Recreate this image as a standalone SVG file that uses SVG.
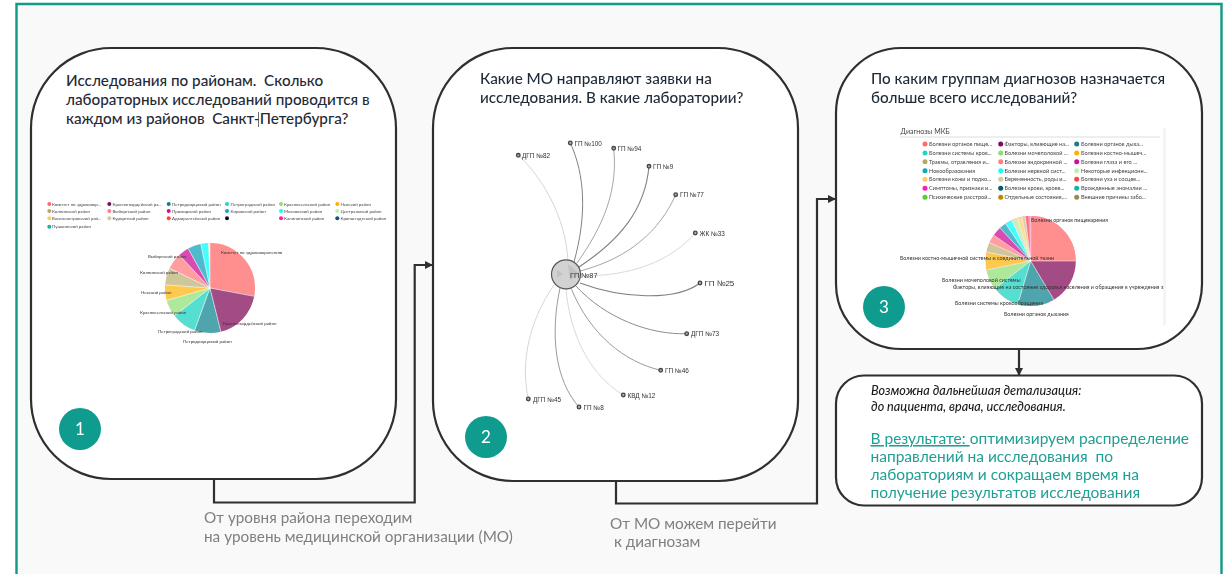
<svg xmlns="http://www.w3.org/2000/svg" width="1230" height="574" viewBox="0 0 1230 574">
<style>
text{font-family:"Lato","Open Sans","Liberation Sans",sans-serif;white-space:pre}
.box{fill:#fff;stroke:#2f2f2f;stroke-width:2.2}
.conn{fill:none;stroke:#2f2f2f;stroke-width:2.2}
.ttl{font-size:15.25px;fill:#1f2a37;font-weight:500}
.note{font-size:15.3px;fill:#7f7f7f}
.res{font-size:15.5px;fill:#1f9f94}
.num{font-size:17px;fill:#fff;text-anchor:middle}
.badge{fill:#0f9b8e}
.l1{font-size:4.4px;fill:#444}
.l3{font-size:5.6px;fill:#444}
.pl{font-size:4.4px;fill:#333}
.pl3{font-size:5.4px;fill:#333}
.g{font-size:6.4px;fill:#333;font-family:"Liberation Sans",sans-serif}
.edge{fill:none;stroke:#808080}
.n{fill:#aaa;stroke:#444;stroke-width:1.3}
.sl{fill:none;stroke-width:45}
.sep{stroke:#fff;stroke-width:.5}
</style>
<defs>
<marker id="arr" markerUnits="userSpaceOnUse" markerWidth="9" markerHeight="9" refX="8" refY="4" orient="auto"><path d="M0 0L8 4L0 8Z" fill="#2f2f2f"/></marker>
<filter id="soft" x="-5%" y="-5%" width="110%" height="110%"><feGaussianBlur stdDeviation="0.28"/></filter>
</defs>
<rect width="1230" height="574" fill="#fff"/>
<path d="M16.5 574V4H1221.5V574Z" fill="#f9f9f9"/>
<path d="M16.5 574V4H1221.5V574" fill="none" stroke="#0f9b84" stroke-width="2.4"/>

<g id="connectors">
<path class="conn" d="M214 479V502.5H414.7V265H433" marker-end="url(#arr)"/>
<path class="conn" d="M616 481V503.5H817V199H836" marker-end="url(#arr)"/>
<path class="conn" d="M1019 349V376" marker-end="url(#arr)"/>
</g>

<g id="node-1">
<rect class="box" x="31" y="48" width="365" height="431" rx="80"/>
<text class="ttl" x="66" y="86">Исследования по районам.  Сколько</text>
<text class="ttl" x="66" y="105">лабораторных исследований проводится в</text>
<text class="ttl" x="66" y="124">каждом из районов  Санкт-Петербурга?</text>
<line x1="258.5" y1="112" x2="258.5" y2="127" stroke="#444" stroke-width=".8"/>
<g filter="url(#soft)">
<circle cx="49.3" cy="204" r="2" fill="#ff6b6b"/><text class="l1" x="52" y="205.7">Комитет по здравоохр...</text>
<circle cx="109.3" cy="204" r="2" fill="#7a0d5e"/><text class="l1" x="112.5" y="205.7">Красногвардейский ра...</text>
<circle cx="168.7" cy="204" r="2" fill="#137c86"/><text class="l1" x="172" y="205.7">Петродворцовый район</text>
<circle cx="227" cy="204" r="2" fill="#22d6c4"/><text class="l1" x="230.5" y="205.7">Петроградский район</text>
<circle cx="281" cy="204" r="2" fill="#8de070"/><text class="l1" x="284" y="205.7">Красносельский район</text>
<circle cx="337.3" cy="204" r="2" fill="#ffb000"/><text class="l1" x="340.5" y="205.7">Невский район</text>
<circle cx="49.3" cy="211" r="2" fill="#b8a862"/><text class="l1" x="52" y="212.7">Колпинский район</text>
<circle cx="109.3" cy="211" r="2" fill="#ff8080"/><text class="l1" x="112.5" y="212.7">Выборгский район</text>
<circle cx="168.7" cy="211" r="2" fill="#cc1097"/><text class="l1" x="172" y="212.7">Приморский район</text>
<circle cx="227" cy="211" r="2" fill="#12a5bd"/><text class="l1" x="230.5" y="212.7">Кировский район</text>
<circle cx="281" cy="211" r="2" fill="#1ff"/><text class="l1" x="284" y="212.7">Московский район</text>
<circle cx="337.3" cy="211" r="2" fill="#c0eeb0"/><text class="l1" x="340.5" y="212.7">Центральный район</text>
<circle cx="49.3" cy="218.3" r="2" fill="#ffcc66"/><text class="l1" x="52" y="220">Василеостровский рай...</text>
<circle cx="109.3" cy="218.3" r="2" fill="#d4cb9c"/><text class="l1" x="112.5" y="220">Курортный район</text>
<circle cx="168.7" cy="218.3" r="2" fill="#f44"/><text class="l1" x="172" y="220">Адмиралтейский район</text>
<circle cx="227" cy="218.3" r="2" fill="#111"/>
<circle cx="281" cy="218.3" r="2" fill="#ff1cae"/><text class="l1" x="284" y="220">Калининский район</text>
<circle cx="337.3" cy="218.3" r="2" fill="#075a66"/><text class="l1" x="340.5" y="220">Кронштадтский район</text>
<circle cx="49.3" cy="226.7" r="2" fill="#12b5a0"/><text class="l1" x="52" y="228.4">Пушкинский район</text>
<g transform="translate(210 288) rotate(-90)">
<circle class="sl" r="22.5" pathLength="360" stroke="#f2efe0"/>
<circle class="sl" r="22.5" pathLength="360" stroke="#ff8f8f" stroke-dasharray="100.7 360"/>
<circle class="sl" r="22.5" pathLength="360" stroke="#a24b85" stroke-dasharray="65.3 360" stroke-dashoffset="-100.7"/>
<circle class="sl" r="22.5" pathLength="360" stroke="#4fa5ae" stroke-dasharray="34 360" stroke-dashoffset="-166"/>
<circle class="sl" r="22.5" pathLength="360" stroke="#55dfd0" stroke-dasharray="32 360" stroke-dashoffset="-200"/>
<circle class="sl" r="22.5" pathLength="360" stroke="#aee89a" stroke-dasharray="22 360" stroke-dashoffset="-232"/>
<circle class="sl" r="22.5" pathLength="360" stroke="#ffc94d" stroke-dasharray="20 360" stroke-dashoffset="-254"/>
<circle class="sl" r="22.5" pathLength="360" stroke="#cfc79a" stroke-dasharray="22 360" stroke-dashoffset="-274"/>
<circle class="sl" r="22.5" pathLength="360" stroke="#ff9ea0" stroke-dasharray="21 360" stroke-dashoffset="-296"/>
<circle class="sl" r="22.5" pathLength="360" stroke="#d84bb0" stroke-dasharray="14 360" stroke-dashoffset="-317"/>
<circle class="sl" r="22.5" pathLength="360" stroke="#4fbacb" stroke-dasharray="17 360" stroke-dashoffset="-331"/>
<circle class="sl" r="22.5" pathLength="360" stroke="#4ff" stroke-dasharray="9.4 360" stroke-dashoffset="-348"/>
<line class="sep" x2="45"/>
<line class="sep" x2="45" transform="rotate(100.7)"/>
<line class="sep" x2="45" transform="rotate(166)"/>
<line class="sep" x2="45" transform="rotate(200)"/>
<line class="sep" x2="45" transform="rotate(232)"/>
<line class="sep" x2="45" transform="rotate(254)"/>
<line class="sep" x2="45" transform="rotate(274)"/>
<line class="sep" x2="45" transform="rotate(296)"/>
<line class="sep" x2="45" transform="rotate(317)"/>
<line class="sep" x2="45" transform="rotate(331)"/>
<line class="sep" x2="45" transform="rotate(348)"/>
</g>
<text class="pl" x="221" y="254">Комитет по здравоохранению</text>
<text class="pl" x="223" y="325">Красногвардейский район</text>
<text class="pl" x="183" y="343">Петродворцовый район</text>
<text class="pl" x="158" y="333">Петроградский район</text>
<text class="pl" x="140" y="314">Красносельский район</text>
<text class="pl" x="141" y="294">Невский район</text>
<text class="pl" x="140" y="274">Колпинский район</text>
<text class="pl" x="148" y="257.5">Выборгский район</text>
</g>
<circle class="badge" cx="80" cy="429" r="21"/>
<text class="num" x="80" y="435">1</text>
</g>

<g id="node-2">
<rect class="box" x="433" y="48" width="365" height="433" rx="80"/>
<text class="ttl" x="480" y="84">Какие МО направляют заявки на</text>
<text class="ttl" x="480" y="103">исследования. В какие лаборатории?</text>
<g filter="url(#soft)">
<path class="edge" stroke-width=".6" opacity=".55" d="M568 262C566 215 540 175 518.3 155.3"/>
<path class="edge" stroke-width="1" d="M574 262C587 215 585 175 570.3 143"/>
<path class="edge" stroke-width=".7" d="M577 263C604 225 618 190 613.7 148.3"/>
<path class="edge" stroke-width="1.1" d="M579 267C620 240 645 210 649 166.3"/>
<path class="edge" stroke-width=".7" d="M580 271C630 258 660 230 675.7 194.7"/>
<path class="edge" stroke-width=".6" opacity=".5" d="M582 276C630 276 670 262 695.3 233"/>
<path class="edge" stroke-width="1.1" d="M580 283C620 298 675 302 700 283"/>
<path class="edge" stroke-width=".9" d="M576 286C605 318 650 335 686.7 333.7"/>
<path class="edge" stroke-width=".8" d="M571 288C590 335 625 362 660.7 370.3"/>
<path class="edge" stroke-width=".6" opacity=".5" d="M566 289C570 335 590 375 623.3 395"/>
<path class="edge" stroke-width=".8" d="M560 288C550 335 555 380 579 407"/>
<path class="edge" stroke-width=".6" opacity=".55" d="M554 285C530 320 520 360 528.3 399"/>
<circle cx="566" cy="274.3" r="14.5" fill="#d2d2d2" stroke="#555" stroke-width="1.2"/>
<path d="M557 270L563 274L557 278Z M568 264L580 274L570 280Z" fill="#c2c2c2"/>
<g><circle class="n" cx="518.3" cy="155.3" r="1.8"/><text class="g" x="522" y="158">ДГП №82</text></g>
<g><circle class="n" cx="570.3" cy="143" r="1.8"/><text class="g" x="574.5" y="145.5">ГП №100</text></g>
<g><circle class="n" cx="613.7" cy="148.3" r="1.8"/><text class="g" x="617.5" y="151">ГП №94</text></g>
<g><circle class="n" cx="649" cy="166.3" r="1.8"/><text class="g" x="653" y="169">ГП №9</text></g>
<g><circle class="n" cx="675.7" cy="194.7" r="1.8"/><text class="g" x="680" y="197.3">ГП №77</text></g>
<g><circle class="n" cx="695.3" cy="233" r="1.8"/><text class="g" x="699.5" y="235.5">ЖК №33</text></g>
<g><circle class="n" cx="700" cy="283" r="1.8"/><text class="g" x="704.5" y="286" style="font-size:8px">ГП №25</text></g>
<g><circle class="n" cx="686.7" cy="333.7" r="1.8"/><text class="g" x="691" y="336.3">ДГП №73</text></g>
<g><circle class="n" cx="660.7" cy="370.3" r="1.8"/><text class="g" x="665" y="373">ГП №46</text></g>
<g><circle class="n" cx="623.3" cy="395" r="1.8"/><text class="g" x="627.5" y="397.6">КВД №12</text></g>
<g><circle class="n" cx="579" cy="407" r="1.8"/><text class="g" x="583.5" y="409.6">ГП №8</text></g>
<g><circle class="n" cx="528.3" cy="399" r="1.8"/><text class="g" x="533" y="401.6">ДГП №45</text></g>
<text class="g" x="570" y="277.5" style="font-size:7.4px">ГП №87</text>
</g>
<circle class="badge" cx="486" cy="437" r="21"/>
<text class="num" x="486" y="443">2</text>
</g>

<g id="node-3">
<rect class="box" x="836" y="48" width="366" height="301" rx="65"/>
<text class="ttl" x="871" y="84">По каким группам диагнозов назначается</text>
<text class="ttl" x="871" y="103">больше всего исследований?</text>
<g filter="url(#soft)">
<rect x="1163" y="128" width="3" height="197" fill="#f4f4f4"/>
<text x="900.5" y="134" style="font-size:7px;fill:#444">Диагнозы МКБ</text>
<line x1="900" y1="137" x2="1160" y2="137" stroke="#ddd"/>
<circle cx="925" cy="144" r="2.5" fill="#ff6b6b"/><text class="l3" x="929" y="146">Болезни органов пище...</text>
<circle cx="1000.7" cy="144" r="2.5" fill="#7a0d5e"/><text class="l3" x="1004.5" y="146">Факторы, влияющие на...</text>
<circle cx="1076.7" cy="144" r="2.5" fill="#137c86"/><text class="l3" x="1081" y="146">Болезни органов дыха...</text>
<circle cx="925" cy="153" r="2.5" fill="#22d6c4"/><text class="l3" x="929" y="155">Болезни системы кров...</text>
<circle cx="1000.7" cy="153" r="2.5" fill="#8de070"/><text class="l3" x="1004.5" y="155">Болезни мочеполовой ...</text>
<circle cx="1076.7" cy="153" r="2.5" fill="#ffb000"/><text class="l3" x="1081" y="155">Болезни костно-мышеч...</text>
<circle cx="925" cy="161.7" r="2.5" fill="#b8a862"/><text class="l3" x="929" y="163.7">Травмы, отравления и...</text>
<circle cx="1000.7" cy="161.7" r="2.5" fill="#ff8080"/><text class="l3" x="1004.5" y="163.7">Болезни эндокринной ...</text>
<circle cx="1076.7" cy="161.7" r="2.5" fill="#cc1097"/><text class="l3" x="1081" y="163.7">Болезни глаза и его ...</text>
<circle cx="925" cy="170.7" r="2.5" fill="#12a5bd"/><text class="l3" x="929" y="172.7">Новообразования</text>
<circle cx="1000.7" cy="170.7" r="2.5" fill="#1ff"/><text class="l3" x="1004.5" y="172.7">Болезни нервной сист...</text>
<circle cx="1076.7" cy="170.7" r="2.5" fill="#c0eeb0"/><text class="l3" x="1081" y="172.7">Некоторые инфекционн...</text>
<circle cx="925" cy="179.3" r="2.5" fill="#ffcc66"/><text class="l3" x="929" y="181.3">Болезни кожи и подко...</text>
<circle cx="1000.7" cy="179.3" r="2.5" fill="#d4cb9c"/><text class="l3" x="1004.5" y="181.3">Беременность, роды и...</text>
<circle cx="1076.7" cy="179.3" r="2.5" fill="#f44"/><text class="l3" x="1081" y="181.3">Болезни уха и сосцев...</text>
<circle cx="925" cy="188.3" r="2.5" fill="#ff1cae"/><text class="l3" x="929" y="190.3">Симптомы, признаки и...</text>
<circle cx="1000.7" cy="188.3" r="2.5" fill="#075a66"/><text class="l3" x="1004.5" y="190.3">Болезни крови, крове...</text>
<circle cx="1076.7" cy="188.3" r="2.5" fill="#12b5a0"/><text class="l3" x="1081" y="190.3">Врожденные аномалии ...</text>
<circle cx="925" cy="197.3" r="2.5" fill="#55d030"/><text class="l3" x="929" y="199.3">Психические расстрой...</text>
<circle cx="1000.7" cy="197.3" r="2.5" fill="#b98a00"/><text class="l3" x="1004.5" y="199.3">Отдельные состояния,...</text>
<circle cx="1076.7" cy="197.3" r="2.5" fill="#9a8a50"/><text class="l3" x="1081" y="199.3">Внешние причины забо...</text>
<g transform="translate(1030.7 261) rotate(-90)">
<circle class="sl" r="22.5" pathLength="360" stroke="#ff8fc8"/>
<circle class="sl" r="22.5" pathLength="360" stroke="#ff8f8f" stroke-dasharray="90 360"/>
<circle class="sl" r="22.5" pathLength="360" stroke="#a24b85" stroke-dasharray="59 360" stroke-dashoffset="-90"/>
<circle class="sl" r="22.5" pathLength="360" stroke="#4fa5ae" stroke-dasharray="47.7 360" stroke-dashoffset="-149"/>
<circle class="sl" r="22.5" pathLength="360" stroke="#55dfd0" stroke-dasharray="35.8 360" stroke-dashoffset="-196.7"/>
<circle class="sl" r="22.5" pathLength="360" stroke="#aee89a" stroke-dasharray="26.1 360" stroke-dashoffset="-232.5"/>
<circle class="sl" r="22.5" pathLength="360" stroke="#ffc94d" stroke-dasharray="22.9 360" stroke-dashoffset="-258.6"/>
<circle class="sl" r="22.5" pathLength="360" stroke="#cfc79a" stroke-dasharray="12.5 360" stroke-dashoffset="-281.5"/>
<circle class="sl" r="22.5" pathLength="360" stroke="#ff9ea0" stroke-dasharray="11 360" stroke-dashoffset="-294"/>
<circle class="sl" r="22.5" pathLength="360" stroke="#d84bb0" stroke-dasharray="12 360" stroke-dashoffset="-305"/>
<circle class="sl" r="22.5" pathLength="360" stroke="#4fbacb" stroke-dasharray="9 360" stroke-dashoffset="-317"/>
<circle class="sl" r="22.5" pathLength="360" stroke="#4ff" stroke-dasharray="9 360" stroke-dashoffset="-326"/>
<circle class="sl" r="22.5" pathLength="360" stroke="#cdeebc" stroke-dasharray="8 360" stroke-dashoffset="-335"/>
<circle class="sl" r="22.5" pathLength="360" stroke="#ffdc8c" stroke-dasharray="5.7 360" stroke-dashoffset="-343"/>
<circle class="sl" r="22.5" pathLength="360" stroke="#d8d2ac" stroke-dasharray="4.3 360" stroke-dashoffset="-348.7"/>
<circle class="sl" r="22.5" pathLength="360" stroke="#ff7070" stroke-dasharray="3.5 360" stroke-dashoffset="-353"/>
<line class="sep" x2="45"/>
<line class="sep" x2="45" transform="rotate(90)"/>
<line class="sep" x2="45" transform="rotate(149)"/>
<line class="sep" x2="45" transform="rotate(196.7)"/>
<line class="sep" x2="45" transform="rotate(232.5)"/>
<line class="sep" x2="45" transform="rotate(258.6)"/>
<line class="sep" x2="45" transform="rotate(281.5)"/>
<line class="sep" x2="45" transform="rotate(294)"/>
<line class="sep" x2="45" transform="rotate(305)"/>
<line class="sep" x2="45" transform="rotate(317)"/>
<line class="sep" x2="45" transform="rotate(326)"/>
<line class="sep" x2="45" transform="rotate(335)"/>
<line class="sep" x2="45" transform="rotate(343)"/>
<line class="sep" x2="45" transform="rotate(348.7)"/>
<line class="sep" x2="45" transform="rotate(353)"/>
</g>
<text class="pl3" x="1031" y="222">Болезни органов пищеварения</text>
<text class="pl3" x="900" y="260">Болезни костно-мышечной системы и соединительной ткани</text>
<text class="pl3" x="942" y="282">Болезни мочеполовой системы</text>
<text class="pl3" x="953" y="288.5">Факторы, влияющие на состояние здоровья населения и обращения в учреждения з</text>
<text class="pl3" x="955" y="305">Болезни системы кровообращения</text>
<text class="pl3" x="1004" y="316">Болезни органов дыхания</text>
</g>
<circle class="badge" cx="884" cy="307" r="21"/>
<text class="num" x="884" y="313">3</text>
</g>

<g id="node-4">
<rect class="box" x="836" y="375.5" width="366" height="130" rx="28"/>
<text x="871" y="395" style="font-size:12.6px;font-style:italic;fill:#1a1a1a;font-weight:500">Возможна дальнейшая детализация:</text>
<text x="871" y="411" style="font-size:12.6px;font-style:italic;fill:#1a1a1a;font-weight:500">до пациента, врача, исследования.</text>
<text class="res" x="870.5" y="444"><tspan text-decoration="underline">В результате: </tspan>оптимизируем распределение</text>
<text class="res" x="870.5" y="462">направлений на исследования  по</text>
<text class="res" x="870.5" y="480">лабораториям и сокращаем время на</text>
<text class="res" x="870.5" y="498">получение результатов исследования</text>
</g>

<text class="note" x="204" y="523">От уровня района переходим</text>
<text class="note" x="204" y="542">на уровень медицинской организации (МО)</text>
<text class="note" x="610" y="529">От МО можем перейти</text>
<text class="note" x="610" y="547"> к диагнозам</text>
</svg>
